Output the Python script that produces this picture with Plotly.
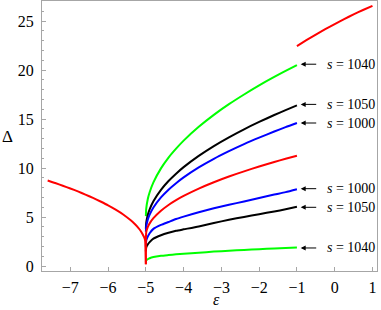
import plotly.graph_objects as go

# ---- data ----
x_left = [-7.6, -7.4, -7.2, -7.0, -6.8, -6.6, -6.4, -6.2, -6.0, -5.8, -5.6, -5.4,
          -5.3, -5.2, -5.15, -5.1, -5.05, -5.02, -5.0]
red_left = [8.74, 8.48, 8.20, 7.92, 7.62, 7.30, 6.96, 6.59, 6.20, 5.76, 5.27, 4.67,
            4.32, 3.91, 3.66, 3.36, 2.98, 2.64, 0.2]

x_mid = [-5.0, -4.99, -4.95, -4.9, -4.8, -4.6, -4.4, -4.2, -4.0, -3.6, -3.2, -2.8,
         -2.4, -2.0, -1.6, -1.3, -1.0]
green_up = [5.10, 5.87, 6.82, 7.53, 8.54, 9.97, 11.07, 11.98, 12.80, 14.21, 15.43,
            16.52, 17.51, 18.44, 19.30, 19.91, 20.50]
black_up = [3.80, 4.43, 5.21, 5.79, 6.62, 7.78, 8.68, 9.43, 10.10, 11.25, 12.25,
            13.14, 13.96, 14.71, 15.42, 15.92, 16.40]
blue_up = [3.50, 4.06, 4.74, 5.25, 5.98, 7.01, 7.80, 8.46, 9.05, 10.07, 10.95,
           11.73, 12.45, 13.11, 13.73, 14.18, 14.60]
red_mid = [0.20, 3.47, 3.98, 4.36, 4.89, 5.65, 6.24, 6.73, 7.16, 7.91, 8.56,
           9.14, 9.67, 10.16, 10.62, 10.95, 11.26]
blue_low = [2.00, 2.60, 3.00, 3.35, 3.80, 4.20, 4.50, 4.80, 5.05, 5.50, 5.90,
            6.25, 6.60, 6.95, 7.30, 7.55, 7.85]
black_low = [1.50, 1.90, 2.20, 2.45, 2.80, 3.15, 3.40, 3.60, 3.75, 4.05, 4.40,
             4.72, 5.02, 5.30, 5.57, 5.80, 6.05]
green_low = [0.45, 0.60, 0.70, 0.80, 0.92, 1.05, 1.13, 1.20, 1.26, 1.37, 1.48,
             1.57, 1.65, 1.72, 1.80, 1.85, 1.90]

x_right = [-1.0, -0.75, -0.5, -0.25, 0.0, 0.25, 0.5, 0.75, 1.0]
red_right = [22.45, 23.05, 23.63, 24.18, 24.70, 25.20, 25.68, 26.13, 26.56]

label_texts = ["s = 1040", "s = 1050", "s = 1000", "s = 1000", "s = 1050", "s = 1040"]
label_y = [20.6, 16.5, 14.6, 7.9, 6.0, 1.85]

x_ticks = [-7, -6, -5, -4, -3, -2, -1, 0, 1]
y_ticks = [0, 5, 10, 15, 20, 25]

GREEN = "rgb(0,255,0)"
BLACK = "rgb(0,0,0)"
BLUE = "rgb(0,0,255)"
RED = "rgb(255,0,0)"
SERIF = "Liberation Serif"

fig = go.Figure()

series = [
    (x_mid, green_up, GREEN), (x_mid, black_up, BLACK), (x_mid, blue_up, BLUE),
    (x_mid, blue_low, BLUE), (x_mid, black_low, BLACK), (x_mid, green_low, GREEN),
    (x_left, red_left, RED), (x_mid, red_mid, RED), (x_right, red_right, RED),
]
for xs, ys, col in series:
    fig.add_trace(go.Scatter(x=xs, y=ys, mode="lines",
                             line=dict(color=col, width=2, shape="spline",
                                       smoothing=0.6),
                             showlegend=False, hoverinfo="skip"))

annotations = []
for txt, yv in zip(label_texts, label_y):
    # arrow pointing to curve end
    annotations.append(dict(x=-0.9, y=yv, xref="x", yref="y", text="",
                            showarrow=True, ax=17, ay=0, arrowhead=2,
                            arrowsize=1, arrowwidth=1, arrowcolor="black"))
    s, rest = txt.split(" ", 1)
    annotations.append(dict(x=-0.26, y=yv, xref="x", yref="y",
                            text="<i>" + s + "</i> " + rest, showarrow=False,
                            xanchor="left", yanchor="middle",
                            font=dict(family=SERIF, size=14, color="black")))

annotations.append(dict(x=0.52, y=-0.1444, xref="paper", yref="paper",
                        text="<i>ε</i>", showarrow=False, xanchor="center",
                        yanchor="bottom",
                        font=dict(family=SERIF, size=16, color="black")))
annotations.append(dict(x=-0.104, y=0.5, xref="paper", yref="paper",
                        text="Δ", showarrow=False, xanchor="center",
                        yanchor="middle",
                        font=dict(family=SERIF, size=17, color="black")))

fig.update_layout(
    width=381, height=310,
    margin=dict(l=42, r=4, t=1, b=39),
    paper_bgcolor="white", plot_bgcolor="white",
    annotations=annotations,
    font=dict(family=SERIF, size=15, color="black"),
)
fig.update_xaxes(range=[-7.75, 1.12], tickvals=x_ticks, showgrid=False,
                 zeroline=False, showline=True, linecolor="#a6a6a6",
                 linewidth=1, mirror=True, ticks="inside", ticklen=4,
                 tickcolor="#a6a6a6", ticklabelstandoff=2,
                 tickfont=dict(family=SERIF, size=16, color="black"))
fig.update_yaxes(range=[-0.5, 27.05], tickvals=y_ticks, showgrid=False,
                 zeroline=False, showline=True, linecolor="#a6a6a6",
                 linewidth=1, mirror=True, ticks="inside", ticklen=4,
                 tickcolor="#a6a6a6", ticklabelstandoff=4,
                 minor=dict(dtick=1, ticks="inside", ticklen=2,
                            tickcolor="#a6a6a6", showgrid=False),
                 tickfont=dict(family=SERIF, size=16, color="black"))

fig.write_html("out.html", config={"displayModeBar": False},
               post_script="document.body.style.margin='0';"
                           "document.body.style.padding='0';")
